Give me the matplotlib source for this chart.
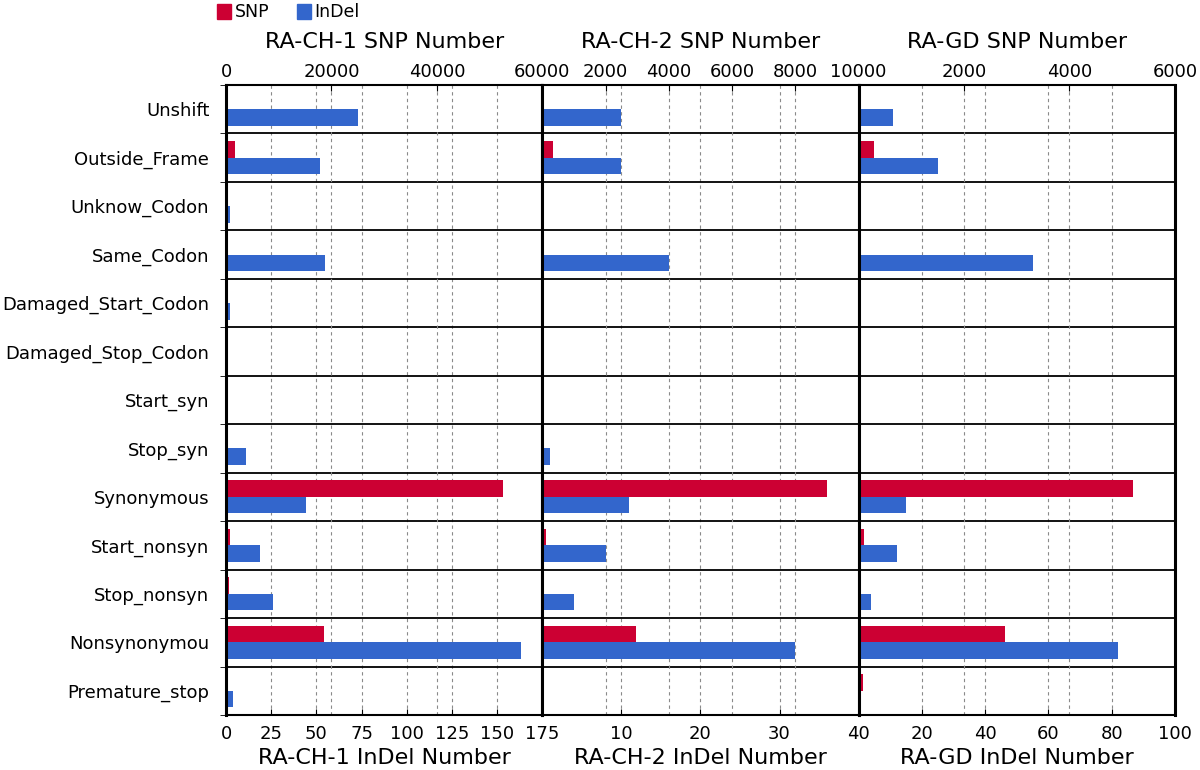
import numpy as np
import matplotlib
matplotlib.use('Agg')
import matplotlib.pyplot as plt
from matplotlib.patches import Patch

categories = ['Unshift', 'Outside_Frame', 'Unknow_Codon', 'Same_Codon',
              'Damaged_Start_Codon', 'Damaged_Stop_Codon', 'Start_syn',
              'Stop_syn', 'Synonymous', 'Start_nonsyn', 'Stop_nonsyn',
              'Nonsynonymou', 'Premature_stop']

samples = ['RA-CH-1', 'RA-CH-2', 'RA-GD']

# SNP counts (top axis) and InDel counts (bottom axis) per sample
snp_ch1 = [0, 1700, 0, 0, 0, 0, 0, 150, 52600, 820, 570, 18500, 0]
indel_ch1 = [73, 52, 2, 55, 2, 0, 0, 11, 44, 19, 26, 163, 4]
snp_ch2 = [0, 350, 0, 0, 0, 0, 0, 0, 9000, 130, 40, 2970, 0]
indel_ch2 = [10, 10, 0, 16, 0, 0, 0, 1, 11, 8, 4, 32, 0]
snp_gd = [0, 290, 0, 10, 0, 0, 0, 0, 5200, 95, 15, 2780, 90]
indel_gd = [11, 25, 0, 55, 0, 0, 0, 0, 15, 12, 4, 82, 0]

snp_data = [snp_ch1, snp_ch2, snp_gd]
indel_data = [indel_ch1, indel_ch2, indel_gd]

snp_max = [60000, 10000, 6000]
snp_step = [20000, 2000, 2000]
indel_max = [175, 40, 100]
indel_step = [25, 10, 20]

red = '#CC0033'
blue = '#3366CC'

W, H = 1200, 770
fig = plt.figure(figsize=(W / 100, H / 100), dpi=100)

y = np.arange(len(categories))
bar_h = 0.34
panel_w = 316.3

for k in range(3):
    ax = fig.add_axes([(226 + k * panel_w) / W, 1 - 715 / H, panel_w / W, 630 / H])

    # bottom axis: InDel scale
    ax.set_xlim(0, indel_max[k])
    bt = np.arange(0, indel_max[k] + 1, indel_step[k])
    ax.set_xticks(bt)
    ax.set_xticklabels([('' if (k > 0 and v == 0) else str(v)) for v in bt], fontsize=13)
    ax.tick_params(axis='x', direction='in', length=4, pad=7)
    ax.grid(axis='x', which='major', color='#8a8a8a', linestyle=(0, (3, 3)), linewidth=0.8)
    ax.set_axisbelow(True)
    ax.set_xlabel(f'{samples[k]} InDel Number', fontsize=16, labelpad=4)

    ax.set_ylim(len(categories) - 0.5, -0.5)
    ax.set_yticks(y)
    if k == 0:
        ax.set_yticklabels(categories, fontsize=13)
    else:
        ax.set_yticklabels([])
    ax.set_yticks(np.arange(-0.5, len(categories)), minor=True)
    ax.tick_params(axis='y', which='major', length=0, pad=12)
    ax.tick_params(axis='y', which='minor', direction='out', length=4 if k == 0 else 0)
    ax.grid(axis='y', which='minor', color='black', linestyle='-', linewidth=1.3)
    for s in ax.spines.values():
        s.set_visible(False)

    # top axis: SNP scale
    ax_t = ax.twiny()
    ax_t.set_xlim(0, snp_max[k])
    tt = np.arange(0, snp_max[k] + 1, snp_step[k])
    ax_t.set_xticks(tt)
    ax_t.set_xticklabels([('' if (k > 0 and v == 0) else str(v)) for v in tt], fontsize=13)
    ax_t.tick_params(axis='x', direction='in', length=4, pad=3)
    ax_t.grid(axis='x', which='major', color='#8a8a8a', linestyle=(0, (3, 3)), linewidth=0.8)
    ax_t.set_axisbelow(True)
    ax_t.set_xlabel(f'{samples[k]} SNP Number', fontsize=16, labelpad=11)
    ax_t.barh(y - bar_h / 2, snp_data[k], height=bar_h, color=red, zorder=2)
    for s in ax_t.spines.values():
        s.set_visible(False)

    # InDel bars on a top layer so no grid line crosses them
    ax_i = ax.twiny()
    ax_i.set_xlim(0, indel_max[k])
    ax_i.xaxis.set_visible(False)
    ax_i.barh(y + bar_h / 2, indel_data[k], height=bar_h, color=blue, zorder=2)
    for side in ['left', 'right']:
        ax_i.spines[side].set_linewidth(2.2)
    for side in ['top', 'bottom']:
        ax_i.spines[side].set_linewidth(1.5)

handles = [Patch(color=red), Patch(color=blue)]
fig.legend(handles, ['SNP', 'InDel'], loc='upper left', bbox_to_anchor=(214 / W, 1.0),
           ncol=2, frameon=False, fontsize=12.5, handlelength=0.8, handleheight=0.9,
           handletextpad=0.2, columnspacing=1.6, borderpad=0.1, borderaxespad=0.1)

plt.savefig('out.png', dpi=100)
